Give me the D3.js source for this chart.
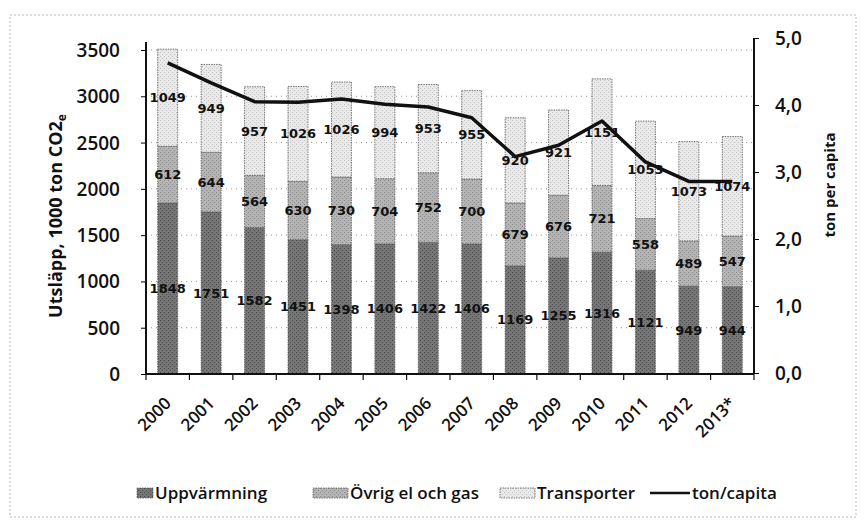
<!DOCTYPE html>
<html><head><meta charset="utf-8">
<script src="https://cdn.jsdelivr.net/npm/d3@7"></script>
<style>body{margin:0;background:#fff}svg{display:block}</style>
</head><body>
<svg id="c" width="866" height="525"></svg>
<script>
const years = ["2000","2001","2002","2003","2004","2005","2006","2007","2008","2009","2010","2011","2012","2013*"];
const uppvarmning = [1848,1751,1582,1451,1398,1406,1422,1406,1169,1255,1316,1121,949,944];
const ovrigEl = [612,644,564,630,730,704,752,700,679,676,721,558,489,547];
const transporter = [1049,949,957,1026,1026,994,953,955,920,921,1151,1053,1073,1074];
const tonPerCapita = [4.63,4.33,4.05,4.04,4.09,4.01,3.97,3.81,3.23,3.40,3.76,3.15,2.86,2.86];
const leftTicks = [0,500,1000,1500,2000,2500,3000,3500];
const rightTicks = [0,1,2,3,4,5];
const seriesNames = ["Uppvärmning","Övrig el och gas","Transporter","ton/capita"];

const svg = d3.select("#c");
const fills = ["#767676","#b4b4b4","#e9e9e9"];
const FONT = "Open Sans, sans-serif";

const defs = svg.append("defs");
fills.forEach((f,i)=>{
  const p = defs.append("pattern").attr("id","pat"+i).attr("width",4).attr("height",4).attr("patternUnits","userSpaceOnUse");
  p.append("rect").attr("width",4).attr("height",4).attr("fill",f);
  const dot = i===0?"#4a4a4a":(i===1?"#8a8a8a":"#c4c4c4");
  p.append("rect").attr("x",0).attr("y",0).attr("width",1).attr("height",1).attr("fill",dot);
  p.append("rect").attr("x",2).attr("y",2).attr("width",1).attr("height",1).attr("fill",dot);
});

const x = d3.scaleBand().domain(years).range([146,754]).paddingInner(0.54).paddingOuter(0.27);
const yL = d3.scaleLinear().domain([0,3500]).range([374,50]);
const yR = d3.scaleLinear().domain([0,5]).range([373,38]);

// frame
svg.append("rect").attr("x",10).attr("y",15).attr("width",846).attr("height",502)
  .attr("fill","none").attr("stroke","#bbb").attr("stroke-width",1).attr("stroke-dasharray","2,2");

// gridlines
svg.append("g").selectAll("line").data(leftTicks.filter(d=>d>0)).join("line")
  .attr("x1",146).attr("x2",754).attr("y1",d=>yL(d)).attr("y2",d=>yL(d))
  .attr("stroke","#999").attr("stroke-width",1).attr("stroke-dasharray","1,4");

// stacked bars
const stackData = years.map((y,i)=>({year:y,a:uppvarmning[i],b:ovrigEl[i],c:transporter[i]}));
const stack = d3.stack().keys(["a","b","c"])(stackData);
const gBars = svg.append("g");
stack.forEach((layer,li)=>{
  gBars.append("g").selectAll("rect").data(layer).join("rect")
    .attr("x",d=>x(d.data.year)).attr("width",x.bandwidth())
    .attr("y",d=>yL(d[1])).attr("height",d=>yL(d[0])-yL(d[1]))
    .attr("fill","url(#pat"+li+")").attr("stroke","#555").attr("stroke-width",0.8).attr("stroke-dasharray","1.5,1");
});

// axes
const axL = svg.append("g").attr("transform","translate(146,0)")
  .call(d3.axisLeft(yL).tickValues(leftTicks).tickSize(5).tickPadding(21).tickFormat(d3.format("d")));
axL.select(".domain").remove();
axL.append("line").attr("x1",0).attr("x2",0).attr("y1",42).attr("y2",374).attr("stroke","#111").attr("stroke-width",2);
axL.selectAll("text").attr("font-family",FONT).attr("font-size",19).attr("font-weight",600).attr("fill","#111").attr("dy","0.34em");

const axR = svg.append("g").attr("transform","translate(754,0)")
  .call(d3.axisRight(yR).tickValues(rightTicks).tickSize(5).tickPadding(16).tickFormat(d=>d3.format(".1f")(d).replace(".",",")));
axR.select(".domain").remove();
axR.append("line").attr("x1",0).attr("x2",0).attr("y1",38).attr("y2",374).attr("stroke","#111").attr("stroke-width",2);
axR.selectAll("text").attr("font-family",FONT).attr("font-size",19).attr("font-weight",600).attr("fill","#111").attr("dy","0.34em");

// x axis
svg.append("line").attr("x1",146).attr("x2",754).attr("y1",374).attr("y2",374).attr("stroke","#111").attr("stroke-width",2);
const step = x.step();
svg.append("g").selectAll("line").data(d3.range(years.length+1)).join("line")
  .attr("x1",d=>146+d*step).attr("x2",d=>146+d*step).attr("y1",374).attr("y2",380)
  .attr("stroke","#111").attr("stroke-width",1.2);
svg.append("g").selectAll("text").data(years).join("text")
  .attr("transform",d=>`translate(${x(d)+x.bandwidth()/2-4},396) rotate(-45)`)
  .attr("text-anchor","end").attr("dy","0.7em")
  .attr("font-family",FONT).attr("font-size",17).attr("font-weight",600).attr("fill","#111").text(d=>d);

// data labels
const lblFont = "DejaVu Sans, sans-serif";
stack.forEach((layer)=>{
  svg.append("g").selectAll("text").data(layer).join("text")
    .attr("x",d=>x(d.data.year)+x.bandwidth()/2).attr("y",d=>(yL(d[0])+yL(d[1]))/2)
    .attr("text-anchor","middle").attr("dy","0.35em")
    .attr("font-family",lblFont).attr("font-size",13).attr("font-weight","bold").attr("fill","#111")
    .text(d=>d[1]-d[0]);
});

// line
const line = d3.line().x((d,i)=>x(years[i])+x.bandwidth()/2).y(d=>yR(d));
svg.append("path").datum(tonPerCapita).attr("d",line).attr("fill","none").attr("stroke","#111").attr("stroke-width",3.5).attr("stroke-linejoin","round");

// axis titles
const t1 = svg.append("text").attr("transform","translate(62,216) rotate(-90)").attr("text-anchor","middle")
  .attr("font-family",FONT).attr("font-size",18).attr("font-weight","bold").attr("fill","#111");
t1.append("tspan").text("Utsläpp, 1000 ton CO2");
t1.append("tspan").attr("font-size",12).attr("dy",4).text("e");
svg.append("text").attr("transform","translate(835,185) rotate(-90)").attr("text-anchor","middle")
  .attr("font-family",FONT).attr("font-size",15).attr("font-weight","bold").attr("fill","#111")
  .text("ton per capita");

// legend
const lg = svg.append("g").attr("font-family",FONT).attr("font-size",17).attr("font-weight",600).attr("fill","#111");
const legendItems = [
  {name:seriesNames[0],sx:137,sw:16,tx:155,type:0},
  {name:seriesNames[1],sx:313,sw:35,tx:350,type:1},
  {name:seriesNames[2],sx:500,sw:35,tx:537,type:2},
  {name:seriesNames[3],sx:650,sw:40,tx:692,type:3}
];
legendItems.forEach(it=>{
  if(it.type<3){
    lg.append("rect").attr("x",it.sx).attr("y",488).attr("width",it.sw).attr("height",10)
      .attr("fill","url(#pat"+it.type+")").attr("stroke","#555").attr("stroke-width",0.8).attr("stroke-dasharray","1.5,1");
  } else {
    lg.append("line").attr("x1",it.sx).attr("x2",it.sx+it.sw).attr("y1",493).attr("y2",493).attr("stroke","#111").attr("stroke-width",2.5);
  }
  lg.append("text").attr("x",it.tx).attr("y",493).attr("dy","0.35em").text(it.name);
});
</script>
</body></html>
